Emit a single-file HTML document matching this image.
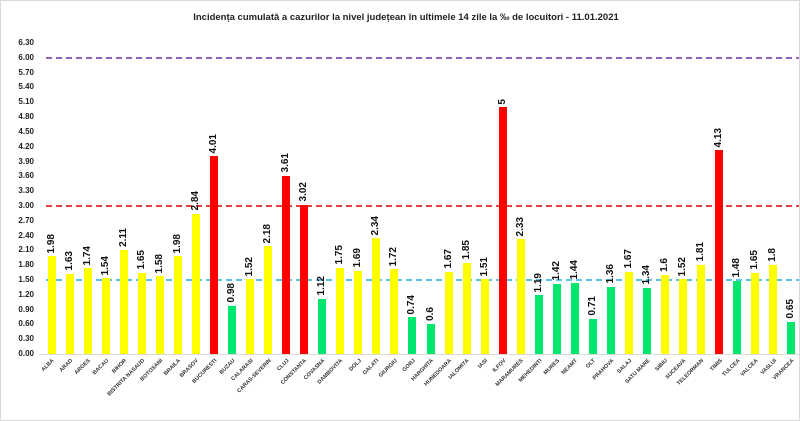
<!DOCTYPE html>
<html><head><meta charset="utf-8"><style>
body{margin:0;background:#fff;}
#c{position:relative;width:800px;height:421px;overflow:hidden;font-family:"Liberation Sans",sans-serif;background:#fff;box-sizing:border-box;border:1px solid #d9d9d9;}
.t{position:absolute;top:11px;left:0;width:810px;text-align:center;font-weight:bold;font-size:9.5px;color:#222;}
.y{position:absolute;left:0;width:33px;text-align:right;font-size:8px;font-weight:bold;color:#222;line-height:10px;}
#cols{position:absolute;left:41.5px;top:0;height:353px;display:flex;}
.col{width:18.05px;height:353px;position:relative;display:flex;flex-direction:column;justify-content:flex-end;align-items:center;}
.v{writing-mode:vertical-rl;transform:rotate(180deg);font-weight:bold;font-size:10px;color:#111;margin-bottom:3px;line-height:10px;}
.b{width:8px;height:calc(var(--v)*49.37px);}
.Y .b{background:#ffff00}.R .b{background:#ff0000}.G .b{background:#00e66e}
.n{position:absolute;right:50%;top:357px;transform-origin:100% 0;transform:rotate(-45deg);font-size:5.5px;font-weight:bold;color:#333;white-space:nowrap;line-height:6px;}
</style></head><body><div id="c">
<div class="t">Incidența cumulată a cazurilor la nivel județean în ultimele 14 zile la ‰ de locuitori - 11.01.2021</div>
<svg width="800" height="421" style="position:absolute;left:0;top:0">
<line x1="38" y1="353.5" x2="800" y2="353.5" stroke="#d9d9d9" stroke-width="1"/>
<line x1="45" y1="57" x2="800" y2="57" stroke="#7030a0" stroke-width="1.5" stroke-dasharray="6,4"/>
<line x1="45" y1="205" x2="800" y2="205" stroke="#e00000" stroke-width="1.5" stroke-dasharray="6,4"/>
<line x1="45" y1="279" x2="800" y2="279" stroke="#1fb4e6" stroke-width="1.5" stroke-dasharray="6,4"/>
</svg>
<div class="y" style="top:348px">0.00</div>
<div class="y" style="top:333.2px">0.30</div>
<div class="y" style="top:318.4px">0.60</div>
<div class="y" style="top:303.6px">0.90</div>
<div class="y" style="top:288.8px">1.20</div>
<div class="y" style="top:274px">1.50</div>
<div class="y" style="top:259.1px">1.80</div>
<div class="y" style="top:244.3px">2.10</div>
<div class="y" style="top:229.5px">2.40</div>
<div class="y" style="top:214.7px">2.70</div>
<div class="y" style="top:199.9px">3.00</div>
<div class="y" style="top:185.1px">3.30</div>
<div class="y" style="top:170.3px">3.60</div>
<div class="y" style="top:155.5px">3.90</div>
<div class="y" style="top:140.7px">4.20</div>
<div class="y" style="top:125.9px">4.50</div>
<div class="y" style="top:111px">4.80</div>
<div class="y" style="top:96.2px">5.10</div>
<div class="y" style="top:81.4px">5.40</div>
<div class="y" style="top:66.6px">5.70</div>
<div class="y" style="top:51.8px">6.00</div>
<div class="y" style="top:37px">6.30</div>
<div id="cols">
<div class="col Y"><span class="v">1.98</span><div class="b" style="--v:1.98"></div><span class="n">ALBA</span></div>
<div class="col Y"><span class="v">1.63</span><div class="b" style="--v:1.63"></div><span class="n">ARAD</span></div>
<div class="col Y"><span class="v">1.74</span><div class="b" style="--v:1.74"></div><span class="n">ARGES</span></div>
<div class="col Y"><span class="v">1.54</span><div class="b" style="--v:1.54"></div><span class="n">BACAU</span></div>
<div class="col Y"><span class="v">2.11</span><div class="b" style="--v:2.11"></div><span class="n">BIHOR</span></div>
<div class="col Y"><span class="v">1.65</span><div class="b" style="--v:1.65"></div><span class="n">BISTRITA NASAUD</span></div>
<div class="col Y"><span class="v">1.58</span><div class="b" style="--v:1.58"></div><span class="n">BOTOSANI</span></div>
<div class="col Y"><span class="v">1.98</span><div class="b" style="--v:1.98"></div><span class="n">BRAILA</span></div>
<div class="col Y"><span class="v">2.84</span><div class="b" style="--v:2.84"></div><span class="n">BRASOV</span></div>
<div class="col R"><span class="v">4.01</span><div class="b" style="--v:4.01"></div><span class="n">BUCURESTI</span></div>
<div class="col G"><span class="v">0.98</span><div class="b" style="--v:0.98"></div><span class="n">BUZAU</span></div>
<div class="col Y"><span class="v">1.52</span><div class="b" style="--v:1.52"></div><span class="n">CALARASI</span></div>
<div class="col Y"><span class="v">2.18</span><div class="b" style="--v:2.18"></div><span class="n">CARAS-SEVERIN</span></div>
<div class="col R"><span class="v">3.61</span><div class="b" style="--v:3.61"></div><span class="n">CLUJ</span></div>
<div class="col R"><span class="v">3.02</span><div class="b" style="--v:3.02"></div><span class="n">CONSTANTA</span></div>
<div class="col G"><span class="v">1.12</span><div class="b" style="--v:1.12"></div><span class="n">COVASNA</span></div>
<div class="col Y"><span class="v">1.75</span><div class="b" style="--v:1.75"></div><span class="n">DAMBOVITA</span></div>
<div class="col Y"><span class="v">1.69</span><div class="b" style="--v:1.69"></div><span class="n">DOLJ</span></div>
<div class="col Y"><span class="v">2.34</span><div class="b" style="--v:2.34"></div><span class="n">GALATI</span></div>
<div class="col Y"><span class="v">1.72</span><div class="b" style="--v:1.72"></div><span class="n">GIURGIU</span></div>
<div class="col G"><span class="v">0.74</span><div class="b" style="--v:0.74"></div><span class="n">GORJ</span></div>
<div class="col G"><span class="v">0.6</span><div class="b" style="--v:0.6"></div><span class="n">HARGHITA</span></div>
<div class="col Y"><span class="v">1.67</span><div class="b" style="--v:1.67"></div><span class="n">HUNEDOARA</span></div>
<div class="col Y"><span class="v">1.85</span><div class="b" style="--v:1.85"></div><span class="n">IALOMITA</span></div>
<div class="col Y"><span class="v">1.51</span><div class="b" style="--v:1.51"></div><span class="n">IASI</span></div>
<div class="col R"><span class="v">5</span><div class="b" style="--v:5"></div><span class="n">ILFOV</span></div>
<div class="col Y"><span class="v">2.33</span><div class="b" style="--v:2.33"></div><span class="n">MARAMURES</span></div>
<div class="col G"><span class="v">1.19</span><div class="b" style="--v:1.19"></div><span class="n">MEHEDINTI</span></div>
<div class="col G"><span class="v">1.42</span><div class="b" style="--v:1.42"></div><span class="n">MURES</span></div>
<div class="col G"><span class="v">1.44</span><div class="b" style="--v:1.44"></div><span class="n">NEAMT</span></div>
<div class="col G"><span class="v">0.71</span><div class="b" style="--v:0.71"></div><span class="n">OLT</span></div>
<div class="col G"><span class="v">1.36</span><div class="b" style="--v:1.36"></div><span class="n">PRAHOVA</span></div>
<div class="col Y"><span class="v">1.67</span><div class="b" style="--v:1.67"></div><span class="n">SALAJ</span></div>
<div class="col G"><span class="v">1.34</span><div class="b" style="--v:1.34"></div><span class="n">SATU MARE</span></div>
<div class="col Y"><span class="v">1.6</span><div class="b" style="--v:1.6"></div><span class="n">SIBIU</span></div>
<div class="col Y"><span class="v">1.52</span><div class="b" style="--v:1.52"></div><span class="n">SUCEAVA</span></div>
<div class="col Y"><span class="v">1.81</span><div class="b" style="--v:1.81"></div><span class="n">TELEORMAN</span></div>
<div class="col R"><span class="v">4.13</span><div class="b" style="--v:4.13"></div><span class="n">TIMIS</span></div>
<div class="col G"><span class="v">1.48</span><div class="b" style="--v:1.48"></div><span class="n">TULCEA</span></div>
<div class="col Y"><span class="v">1.65</span><div class="b" style="--v:1.65"></div><span class="n">VALCEA</span></div>
<div class="col Y"><span class="v">1.8</span><div class="b" style="--v:1.8"></div><span class="n">VASLUI</span></div>
<div class="col G"><span class="v">0.65</span><div class="b" style="--v:0.65"></div><span class="n">VRANCEA</span></div>
</div>
</div></body></html>
